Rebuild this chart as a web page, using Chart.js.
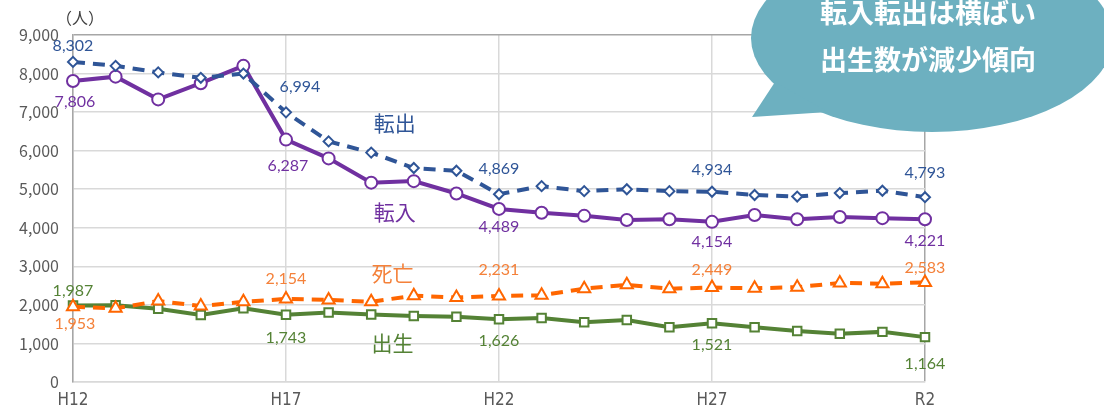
<!DOCTYPE html>
<html><head><meta charset="utf-8">
<script src="https://cdn.jsdelivr.net/npm/chart.js@4"></script>
<style>html,body{margin:0;padding:0;background:#fff;}#wrap{width:1104px;height:412px;position:relative;}</style>
</head><body><div id="wrap"><canvas id="c" width="1104" height="412"></canvas></div>
<script>
const categories = ['H12','H13','H14','H15','H16','H17','H18','H19','H20','H21','H22','H23','H24','H25','H26','H27','H28','H29','H30','R1','R2'];
const tenshutsu = [8302,8200,8030,7890,8000,6994,6240,5950,5550,5480,4869,5080,4950,5000,4950,4934,4850,4810,4900,4960,4793];
const tennyu    = [7806,7920,7330,7750,8200,6287,5800,5170,5210,4890,4489,4390,4310,4200,4220,4154,4330,4220,4280,4250,4221];
const shibo     = [1953,1910,2100,1970,2080,2154,2130,2080,2240,2190,2231,2250,2420,2520,2420,2449,2430,2460,2570,2550,2583];
const shussei   = [1987,1990,1900,1740,1910,1743,1800,1750,1710,1690,1626,1660,1550,1610,1420,1521,1420,1320,1250,1300,1164];
const seriesNames = ['転出','転入','死亡','出生'];
const yTickLabels = ['0','1,000','2,000','3,000','4,000','5,000','6,000','7,000','8,000','9,000'];
const calloutLines = ['転入転出は横ばい','出生数が減少傾向'];
const unitLabel = '（人）';

const labelIdx = [0,5,10,15,20];
const fmt = v => v.toLocaleString('en-US');

const valueLabels = {
  id:'valueLabels',
  afterDatasetsDraw(chart){
    const ctx = chart.ctx;
    ctx.save();
    ctx.font = '16px Lato, "Noto Sans", sans-serif';
    ctx.textAlign = 'center'; ctx.textBaseline = 'middle';
    chart.data.datasets.forEach((ds,di)=>{
      const meta = chart.getDatasetMeta(di);
      labelIdx.forEach((idx,k)=>{
        const p = meta.data[idx];
        const off = ds.lblOff[k];
        ctx.fillStyle = ds.lblColor;
        ctx.fillText(fmt(ds.data[idx]), p.x + off[0], p.y + off[1]);
      });
    });
    // series names
    const xs = chart.scales.x, ys = chart.scales.y;
    ctx.font = '21px "Noto Sans CJK JP", sans-serif';
    const namePos = [[7.55,6720],[7.55,4400],[7.5,2820],[7.5,1000]];
    chart.data.datasets.forEach((ds,di)=>{
      ctx.fillStyle = ds.lblColor;
      const x = xs.left + (xs.right-xs.left)*namePos[di][0]/20;
      ctx.fillText(seriesNames[di], x, ys.getPixelForValue(namePos[di][1]));
    });
    // unit
    ctx.fillStyle = '#404040';
    ctx.font = '16px "Noto Sans CJK JP", sans-serif';
    ctx.fillText(unitLabel, 80, 18);
    // callout
    ctx.fillStyle = '#6DB0C0';
    ctx.beginPath();
    ctx.ellipse(932, 38, 181, 94, 0, 0, Math.PI*2);
    ctx.fill();
    ctx.beginPath();
    ctx.moveTo(775, 82); ctx.lineTo(752, 117); ctx.lineTo(828, 112); ctx.closePath();
    ctx.fill();
    ctx.fillStyle = '#ffffff';
    ctx.font = 'bold 27px "Noto Sans CJK JP", sans-serif';
    ctx.fillText(calloutLines[0], 928, 13);
    ctx.fillText(calloutLines[1], 928, 60);
    ctx.restore();
  }
};

const mk = (label,data,color,lblColor,dash,style,radius,lblOff)=>({
  label,data,borderColor:color,backgroundColor:'#fff',borderWidth:4,borderDash:dash,
  pointStyle:style,pointRadius:radius,pointBorderWidth:2,pointBorderColor:color,pointBackgroundColor:'#fff',
  tension:0,lblColor,lblOff
});

new Chart(document.getElementById('c'),{
  type:'line',
  data:{labels:categories,datasets:[
    mk(seriesNames[0],tenshutsu,'#2F5597','#2F5597',[12,8],'rectRot',5,[[0,-16],[14,-25],[0,-25],[0,-22],[0,-24]]),
    mk(seriesNames[1],tennyu,'#7030A0','#7030A0',[],'circle',6,[[2,21],[2,26],[0,18],[0,20],[0,22]]),
    mk(seriesNames[2],shibo,'#FF6600','#F4813A',[12,8],'triangle',7,[[2,17],[0,-20],[0,-26],[0,-18],[0,-15]]),
    mk(seriesNames[3],shussei,'#548235','#548235',[],'rect',6,[[0,-15],[0,23],[0,22],[0,21],[0,27]])
  ]},
  options:{
    responsive:false,animation:false,
    layout:{padding:{top:35,right:179,left:0,bottom:0}},
    plugins:{legend:{display:false},tooltip:{enabled:false}},
    scales:{
      x:{
        offset:false,
        afterFit(s){s.height=30;},
        border:{color:'#D9D9D9',width:1.5},
        grid:{drawTicks:false,lineWidth:1.5,
          color:c=>c.index===20?'#A6A6A6':(c.index%5===0?'#D9D9D9':'rgba(0,0,0,0)')},
        ticks:{autoSkip:false,maxRotation:0,padding:8,color:'#595959',
          font:{family:'"Liberation Sans Narrow","DejaVu Sans Condensed",sans-serif',size:17},
          callback:(v,i)=>i%5===0?categories[i]:''}
      },
      y:{
        min:0,max:9000,
        afterFit(s){s.width=73;},
        border:{color:'#A6A6A6',width:1.5},
        grid:{drawTicks:false,lineWidth:1.5,color:c=>c.tick&&c.tick.value===9000?'#A6A6A6':'#D9D9D9'},
        ticks:{stepSize:1000,padding:14,color:'#595959',
          font:{family:'"Noto Sans CJK JP",sans-serif',size:16},
          callback:v=>yTickLabels[v/1000]}
      }
    }
  },
  plugins:[valueLabels]
});
</script></body></html>
